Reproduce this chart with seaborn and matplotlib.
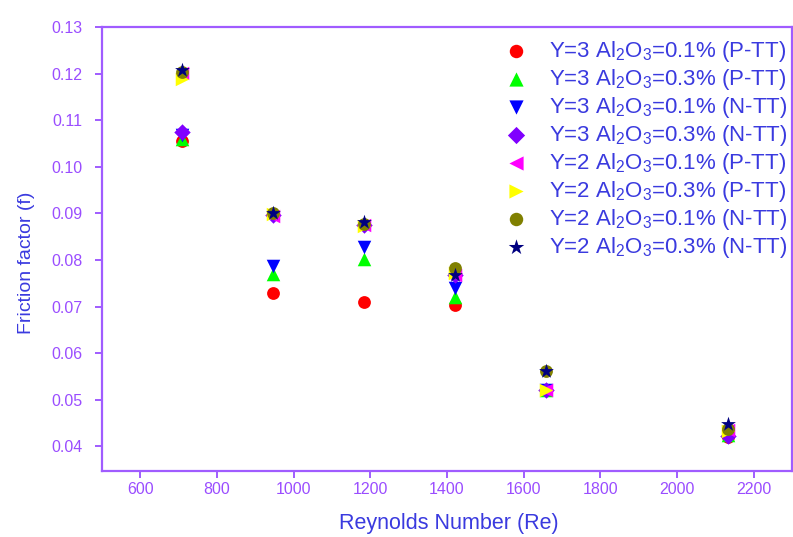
import matplotlib
matplotlib.use("Agg")
import matplotlib.pyplot as plt
import seaborn as sns
import pandas as pd

reynolds = [708, 946, 1183, 1421, 1659, 2132]

labels = [
    "Y=3 Al$_2$O$_3$=0.1% (P-TT)",
    "Y=3 Al$_2$O$_3$=0.3% (P-TT)",
    "Y=3 Al$_2$O$_3$=0.1% (N-TT)",
    "Y=3 Al$_2$O$_3$=0.3% (N-TT)",
    "Y=2 Al$_2$O$_3$=0.1% (P-TT)",
    "Y=2 Al$_2$O$_3$=0.3% (P-TT)",
    "Y=2 Al$_2$O$_3$=0.1% (N-TT)",
    "Y=2 Al$_2$O$_3$=0.3% (N-TT)",
]

y3_01_p = [0.1055, 0.0730, 0.0710, 0.0703, 0.0520, 0.0420]
y3_03_p = [0.1060, 0.0770, 0.0801, 0.0720, 0.0520, 0.0425]
y3_01_n = [0.1068, 0.0786, 0.0827, 0.0740, 0.0520, 0.0430]
y3_03_n = [0.1075, 0.0896, 0.0876, 0.0768, 0.0520, 0.0422]
y2_01_p = [0.1202, 0.0895, 0.0874, 0.0768, 0.0520, 0.0435]
y2_03_p = [0.1188, 0.0898, 0.0872, 0.0772, 0.0521, 0.0433]
y2_01_n = [0.1204, 0.0900, 0.0878, 0.0782, 0.0562, 0.0437]
y2_03_n = [0.1208, 0.0901, 0.0882, 0.0768, 0.0562, 0.0448]

series = [y3_01_p, y3_03_p, y3_01_n, y3_03_n, y2_01_p, y2_03_p, y2_01_n, y2_03_n]
colors = ["#ff0000", "#00ff00", "#0000ff", "#8000ff", "#ff00ff", "#ffff00", "#808000", "#000080"]
markers = ["o", "^", "v", "D", "<", ">", "o", "*"]
sizes = [85, 95, 95, 70, 95, 95, 85, 125]

sns.set_theme(style="white")
plt.rcParams['font.family'] = ['Liberation Sans', 'DejaVu Sans']
plt.rcParams['mathtext.fontset'] = 'custom'
plt.rcParams['mathtext.rm'] = 'Liberation Sans'
plt.rcParams['mathtext.it'] = 'Liberation Sans'

fig = plt.figure(figsize=(7.93, 5.37), dpi=100)
ax = fig.add_axes([0.1286, 0.1229, 0.8701, 0.8268])

for lab, vals, c, m, s in zip(labels, series, colors, markers, sizes):
    df = pd.DataFrame({"Re": reynolds, "f": vals})
    sns.scatterplot(data=df, x="Re", y="f", color=c, marker=m, s=s,
                    linewidth=0, label=lab, ax=ax, zorder=3)

ax.set_xlim(500, 2300)
ax.set_ylim(0.0347, 0.13)
ax.set_xticks([600, 800, 1000, 1200, 1400, 1600, 1800, 2000, 2200])
ax.set_yticks([0.04, 0.05, 0.06, 0.07, 0.08, 0.09, 0.10, 0.11, 0.12, 0.13])
ax.set_yticklabels(["0.04", "0.05", "0.06", "0.07", "0.08", "0.09", "0.10", "0.11", "0.12", "0.13"])

spine_col = "#a05cff"
tick_col = "#9a4dff"
label_col = "#3a3adf"
for sp in ax.spines.values():
    sp.set_color(spine_col)
    sp.set_linewidth(1.6)
ax.tick_params(axis="both", direction="out", length=5, width=1.4, color=spine_col,
               labelcolor=tick_col, labelsize=11.5, bottom=True, left=True)
ax.tick_params(axis="x", pad=3)
ax.tick_params(axis="y", pad=9)

ax.set_xlabel("Reynolds Number (Re)", color=label_col, fontsize=15.5)
ax.set_ylabel("Friction factor (f)", color=label_col, fontsize=14)
ax.xaxis.set_label_coords(0.502, -0.094)
ax.yaxis.set_label_coords(-0.097, 0.47)

leg = ax.legend(loc="upper right", bbox_to_anchor=(1.012, 1.003), frameon=False,
                fontsize=16, labelspacing=0.135, handletextpad=0.68,
                borderaxespad=0.2, markerscale=1.05, handlelength=1.6)
for t in leg.get_texts():
    t.set_color(label_col)

fig.savefig("out.png", dpi=100)
